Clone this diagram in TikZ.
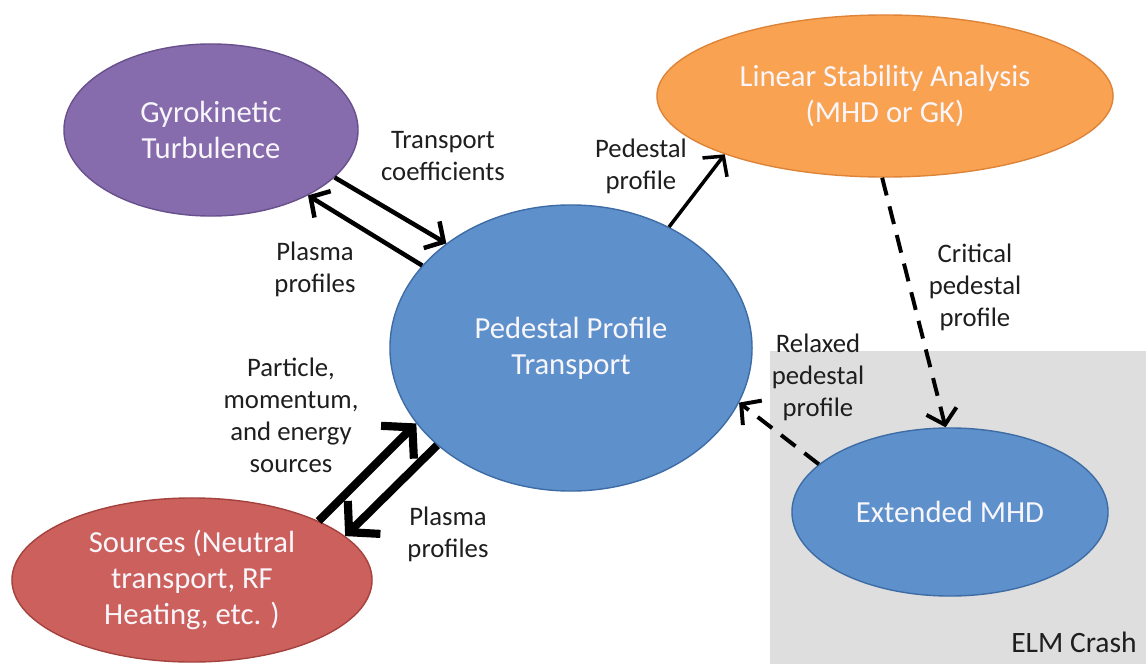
\documentclass[tikz,border=0pt]{standalone}
\usepackage{fontspec}
\setmainfont{Carlito}
\usepackage{tikz}
\usetikzlibrary{arrows.meta,shapes.geometric}

\definecolor{gyrofill}{RGB}{134,108,172}
\definecolor{gyroedge}{RGB}{104,80,140}
\definecolor{lsafill}{RGB}{249,163,82}
\definecolor{lsaedge}{RGB}{222,132,56}
\definecolor{pptfill}{RGB}{94,145,204}
\definecolor{pptedge}{RGB}{62,108,165}
\definecolor{srcfill}{RGB}{203,96,92}
\definecolor{srcedge}{RGB}{165,66,62}
\definecolor{crashbg}{RGB}{222,222,222}
\definecolor{labeltext}{RGB}{30,30,30}
\definecolor{modtext}{RGB}{248,246,250}

\begin{document}
\begin{tikzpicture}[x=0.025cm,y=-0.025cm,>={Straight Barb[length=10pt,width=22pt]}]
  \tikzstyle{module}=[ellipse,draw,line width=1pt,inner sep=0pt,text=modtext,
                      align=center,font=\fontsize{21.8}{25.5}\selectfont]
  \tikzstyle{gyro module}=[module,draw=gyroedge,fill=gyrofill,
                           minimum width=7.35cm,minimum height=4.3cm]
  \tikzstyle{lsa module}=[module,draw=lsaedge,fill=lsafill,
                          minimum width=11.4cm,minimum height=4.05cm]
  \tikzstyle{ppt module}=[module,draw=pptedge,fill=pptfill,
                          minimum width=9.05cm,minimum height=7.15cm]
  \tikzstyle{mhd module}=[module,draw=pptedge,fill=pptfill,
                          minimum width=7.9cm,minimum height=4.2cm]
  \tikzstyle{src module}=[module,draw=srcedge,fill=srcfill,
                          minimum width=9cm,minimum height=4.1cm]
  \tikzstyle{flow label}=[align=center,text=labeltext,inner sep=0pt,
                          font=\fontsize{19}{22.7}\selectfont]
  \tikzstyle{flow}=[->,line width=3.2pt]
  \tikzstyle{thin flow}=[->,line width=2.5pt]
  \tikzstyle{heavy flow}=[->,line width=5.8pt,>={Straight Barb[length=15pt,width=33pt]}]
  \tikzstyle{crash flow}=[->,line width=2.8pt,dash pattern=on 13pt off 8pt]

  \useasboundingbox (0,0) rectangle (1146,664);

  % ELM crash region
  \fill [crashbg] (770,351) rectangle (1146,664);
  \node [text=labeltext,font=\fontsize{21}{25}\selectfont] (crash) at (1074,642) {ELM Crash};

  % modules
  \node [gyro module] (gyro) at (211,130) {Gyrokinetic\\Turbulence};
  \node [lsa module] (lsa) at (885,96) {Linear Stability Analysis\\(MHD or GK)};
  \node [ppt module] (ppt) at (571,348) {Pedestal Profile\\Transport};
  \node [mhd module] (mhd) at (950,512) {Extended MHD};
  \node [src module] (src) at (192,580) {Sources (Neutral\\transport, RF\\Heating, etc. )};

  % labels
  \node [flow label] (coef) at (443,156) {Transport\\coefficients};
  \node [flow label] (plasma1) at (315,269) {Plasma\\profiles};
  \node [flow label] (pedprof) at (641,166) {Pedestal\\profile};
  \node [flow label] (critical) at (975,287) {Critical\\pedestal\\profile};
  \node [flow label] (relaxed) at (818,377) {Relaxed\\pedestal\\profile};
  \node [flow label] (sources) at (291,415) {Particle,\\momentum,\\and energy\\sources};
  \node [flow label] (plasma2) at (448,534) {Plasma\\profiles};

  % connectors
  \draw [flow] (gyro.-21) -- (ppt.140);
  \draw [flow] (ppt.151) -- (gyro.-34);
  \draw [thin flow] (ppt.51) -- (lsa.-160);
  \draw [crash flow] (lsa.-92) -- (mhd.93);
  \draw [crash flow] (mhd.160) -- (ppt.-18);
  \draw [heavy flow] (src.25) -- (ppt.-154);
  \draw [heavy flow] (ppt.-144) -- (src.16);
\end{tikzpicture}
\end{document}
